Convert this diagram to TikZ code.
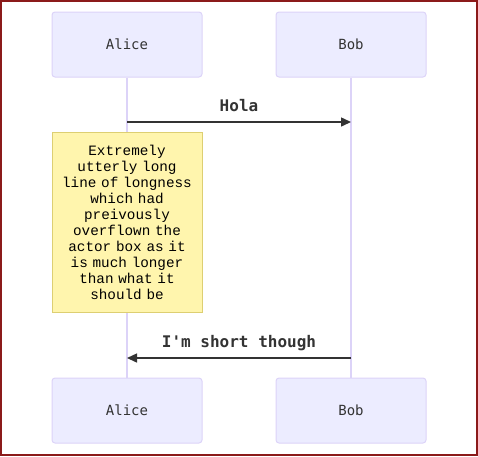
\documentclass[tikz,border=0pt]{standalone}
\usepackage{fontspec}
\usetikzlibrary{arrows.meta}
\newfontfamily\actorfont{DejaVu Sans Mono}
\newfontfamily\notefont{Liberation Mono}
\definecolor{actorfill}{HTML}{ECECFF}
\definecolor{actorline}{HTML}{DCD3F8}
\definecolor{notefill}{HTML}{FFF5AD}
\definecolor{noteline}{HTML}{DDCF72}
\definecolor{msgline}{HTML}{333333}
\definecolor{framered}{HTML}{8B1A1A}

\begin{document}
\begin{tikzpicture}[x=1pt, y=-1pt]
        \tikzstyle{actor}=[draw=actorline,fill=actorfill,rounded corners=3pt,line width=1pt,minimum width=150pt,minimum height=65pt,text=msgline,font=\actorfont\fontsize{14}{16}\selectfont]
        \tikzstyle{lifeline}=[actorline,line width=2pt]
        \tikzstyle{note}=[draw=noteline,fill=notefill,line width=1pt,minimum width=150pt,minimum height=180pt,text width=146pt,align=center,inner sep=0pt,text=black,font=\notefont\fontsize{14.3}{16}\selectfont]
        \tikzstyle{msg}=[msgline,line width=1.5pt,-{Triangle[length=10pt,width=9pt]}]
        \tikzstyle{msglabel}=[text=msgline,font=\actorfont\bfseries\fontsize{16}{18}\selectfont]

        \useasboundingbox (0,0) rectangle (478,456);
        \draw[framered,line width=2pt] (1,1) rectangle (477,455);

        \node[actor] (A_top) at (127,44.5)  {Alice};
        \node[actor] (B_top) at (351,44.5)  {Bob};
        \node[actor] (A_bot) at (127,410.5) {Alice};
        \node[actor] (B_bot) at (351,410.5) {Bob};

        \draw[lifeline] (A_top) -- (A_bot);
        \draw[lifeline] (B_top) -- (B_bot);

        \node[note] (N) at (127,222.5) {Extremely\\utterly long\\line of longness\\which had\\preivously\\overflown the\\actor box as it\\is much longer\\than what it\\should be};

        \coordinate (A_1) at (127,122);
        \coordinate (B_1) at (351,122);
        \coordinate (A_2) at (127,358);
        \coordinate (B_2) at (351,358);

        \draw[msg] (A_1) -- (B_1) node[midway,msglabel,yshift=16pt] {Hola};
        \draw[msg] (B_2) -- (A_2) node[midway,msglabel,yshift=15pt] {I'm short though};
    \end{tikzpicture}
\end{document}
